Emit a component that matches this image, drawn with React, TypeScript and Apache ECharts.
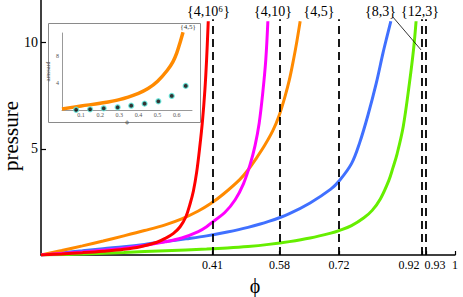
import React, { useEffect, useRef } from "react";
import * as echarts from "echarts";

// ---- data ----
const redPhi = [0, 0.05, 0.1, 0.15, 0.2, 0.24, 0.28, 0.3, 0.32, 0.336, 0.35, 0.36, 0.368, 0.376, 0.383, 0.39, 0.396, 0.4, 0.404];
const redP = [0, 0.05, 0.11, 0.18, 0.27, 0.39, 0.6, 0.78, 1.02, 1.33, 1.8, 2.4, 3.0, 3.9, 5.0, 6.3, 7.8, 9.2, 11];

const magentaPhi = [0, 0.05, 0.1, 0.15, 0.2, 0.25, 0.3, 0.34, 0.38, 0.4, 0.414, 0.444, 0.469, 0.489, 0.505, 0.517, 0.527, 0.536, 0.543, 0.548];
const magentaP = [0, 0.07, 0.14, 0.22, 0.32, 0.45, 0.62, 0.8, 1.1, 1.33, 1.55, 2.0, 2.6, 3.35, 4.25, 5.15, 6.2, 7.7, 9.2, 11];

const orangePhi = [0, 0.05, 0.1, 0.15, 0.2, 0.25, 0.3, 0.34, 0.38, 0.41, 0.44, 0.48, 0.5, 0.52, 0.54, 0.56, 0.575, 0.59, 0.6, 0.61, 0.618, 0.626];
const orangeP = [0, 0.21, 0.43, 0.66, 0.9, 1.15, 1.42, 1.7, 2.07, 2.42, 2.86, 3.55, 4.0, 4.55, 5.15, 5.85, 6.55, 7.5, 8.25, 9.2, 10.05, 11];

const bluePhi = [0, 0.05, 0.1, 0.15, 0.2, 0.25, 0.3, 0.35, 0.4, 0.45, 0.5, 0.55, 0.6, 0.65, 0.7, 0.72, 0.75, 0.77, 0.79, 0.81, 0.826, 0.836, 0.845];
const blueP = [0, 0.1, 0.2, 0.3, 0.39, 0.5, 0.63, 0.76, 0.9, 1.08, 1.3, 1.58, 1.95, 2.45, 3.1, 3.48, 4.3, 5.3, 6.6, 8.1, 9.5, 10.3, 11];

const greenPhi = [0, 0.1, 0.2, 0.3, 0.4, 0.45, 0.5, 0.55, 0.6, 0.65, 0.7, 0.72, 0.75, 0.78, 0.8, 0.82, 0.84, 0.85, 0.86, 0.875, 0.89, 0.9, 0.906];
const greenP = [0, 0.05, 0.12, 0.2, 0.28, 0.33, 0.4, 0.5, 0.63, 0.8, 1.03, 1.15, 1.38, 1.75, 2.1, 2.65, 3.5, 4.1, 4.75, 6.05, 8.1, 9.7, 11];

const limitPhi = [0.414, 0.576, 0.72, 0.92, 0.93];
const xTickValues = [0.414, 0.576, 0.72, 0.92, 0.93, 1];
const yTickValues = [5, 10];

const curveLabels = ["{4,10⁶}", "{4,10}", "{4,5}", "{8,3}", "{12,3}"];

// inset
const insetCurvePhi = [0, 0.1, 0.2, 0.3, 0.4, 0.45, 0.5, 0.55, 0.58, 0.6, 0.62, 0.633];
const insetCurveP = [0.15, 0.6, 1.0, 1.55, 2.5, 3.2, 4.3, 5.9, 7.2, 8.5, 10.3, 11.6];
const insetDotPhi = [0.074, 0.147, 0.218, 0.291, 0.362, 0.432, 0.504, 0.574, 0.647];
const insetDotP = [0.03, 0.1, 0.25, 0.4, 0.65, 0.95, 1.3, 2.1, 3.6];
const insetYTicks = [4, 8];
const insetXTicks = [0.1, 0.2, 0.3, 0.4, 0.5, 0.6];

const pairs = (xs: number[], ys: number[]) => xs.map((x, i) => [x, ys[i]]);

const SERIF = "Liberation Serif";

export default function App() {
  const ref = useRef<HTMLDivElement>(null);
  useEffect(() => {
    if (!ref.current) return;
    const chart = echarts.init(ref.current, null, { renderer: "svg" });
    const curve = (name: string, xs: number[], ys: number[], color: string) => ({
      type: "line",
      name,
      xAxisIndex: 0,
      yAxisIndex: 0,
      data: pairs(xs, ys),
      showSymbol: false,
      smooth: 0.35,
      lineStyle: { color, width: 3 },
      z: 3,
    });
    const labelX = [208.5, 273, 319, 380.5, 420];
    const txt = (text: string, x: number, y: number, size: number, extra: any = {}) => ({
      type: "text",
      x,
      y,
      z: 10,
      ...extra,
      style: {
        text,
        fontFamily: SERIF,
        fontSize: size,
        fill: extra.fill || "#000",
        textAlign: "center",
        textVerticalAlign: "middle",
      },
    });
    const option: any = {
      animation: false,
      backgroundColor: "#fff",
      textStyle: { fontFamily: SERIF },
      grid: [
        { left: 41, right: 8, top: 0, bottom: 42 },
        { left: 62, top: 33, width: 130, height: 77 },
      ],
      xAxis: [
        {
          type: "value",
          gridIndex: 0,
          min: 0,
          max: 1,
          axisLine: { lineStyle: { color: "#000", width: 1.5 } },
          axisTick: { customValues: xTickValues, inside: true, length: 4, lineStyle: { color: "#000", width: 1.2 } },
          axisLabel: {
            customValues: xTickValues,
            margin: 4,
            color: "#000",
            fontFamily: SERIF,
            fontSize: 12,
            formatter: (v: number) => {
              if (v === 1) return "1";
              const s = v.toFixed(2);
              if (Math.abs(v - 0.92) < 1e-6) return "{l|" + s + "}";
              if (Math.abs(v - 0.93) < 1e-6) return "{r|" + s + "}";
              return s;
            },
            rich: {
              l: { padding: [0, 26, 0, 0], fontFamily: SERIF, fontSize: 12, color: "#000" },
              r: { padding: [0, 0, 0, 18], fontFamily: SERIF, fontSize: 12, color: "#000" },
            },
          },
          splitLine: { show: false },
        },
        {
          type: "value",
          gridIndex: 1,
          min: 0,
          max: 0.68,
          axisLine: { lineStyle: { color: "#999", width: 1 } },
          axisTick: { show: false },
          axisLabel: {
            customValues: insetXTicks,
            margin: 2,
            color: "#555",
            fontFamily: SERIF,
            fontSize: 6,
            formatter: (v: number) => v.toFixed(1),
          },
          splitLine: { show: false },
          name: "ϕ",
          nameLocation: "middle",
          nameGap: 6,
          nameTextStyle: { fontFamily: SERIF, fontSize: 7, color: "#444" },
        },
      ],
      yAxis: [
        {
          type: "value",
          gridIndex: 0,
          min: 0,
          max: 12,
          axisLine: { show: true, lineStyle: { color: "#000", width: 1.5 } },
          axisTick: { show: true, customValues: yTickValues, inside: true, length: 5, lineStyle: { color: "#000", width: 1.2 } },
          axisLabel: { customValues: yTickValues, margin: 3, color: "#000", fontFamily: SERIF, fontSize: 14 },
          splitLine: { show: false },
        },
        {
          type: "value",
          gridIndex: 1,
          min: 0,
          max: 11.5,
          axisLine: { show: true, lineStyle: { color: "#999", width: 1 } },
          axisTick: { show: false },
          axisLabel: {
            customValues: insetYTicks,
            margin: 3,
            color: "#555",
            fontFamily: SERIF,
            fontSize: 6,
          },
          splitLine: { show: false },
          name: "pressure",
          nameLocation: "middle",
          nameRotate: -90,
          nameGap: 8,
          nameTextStyle: { fontFamily: SERIF, fontSize: 6, color: "#444" },
        },
      ],
      graphic: [
        {
          type: "rect",
          shape: { x: 48.5, y: 23.5, width: 152, height: 99 },
          style: { fill: "#fff", stroke: "#8a8a8a", lineWidth: 1 },
          z: 0,
          silent: true,
        },
        ...curveLabels.map((t, i) => txt(t, labelX[i], 11, 14)),
        txt("{4,5}", 188, 27, 7, { fill: "#333" }),
        txt("ϕ", 255, 286, 20),
        txt("pressure", 11, 136, 21, { rotation: Math.PI / 2 }),
      ],
      series: [
        {
          type: "line",
          xAxisIndex: 0,
          yAxisIndex: 0,
          data: [],
          markLine: {
            silent: true,
            symbol: ["none", "none"],
            label: { show: false },
            lineStyle: { color: "#000", width: 1.8, type: [8, 5] },
            data: limitPhi.map((x) => [{ coord: [x, 0] }, { coord: [x, 11.1] }]),
          },
          z: 2,
        },
        {
          type: "line",
          xAxisIndex: 0,
          yAxisIndex: 0,
          data: [],
          markLine: {
            silent: true,
            symbol: ["none", "none"],
            label: { show: false },
            lineStyle: { color: "#000", width: 0.8, type: "solid" },
            data: [[{ coord: [0.85, 11.2] }, { coord: [0.918, 9.65] }]],
          },
          z: 2,
        },
        curve("{12,3}", greenPhi, greenP, "#66ee00"),
        curve("{8,3}", bluePhi, blueP, "#4070ff"),
        curve("{4,5}", orangePhi, orangeP, "#ff8a00"),
        curve("{4,10}", magentaPhi, magentaP, "#ff00ff"),
        curve("{4,10⁶}", redPhi, redP, "#ff0000"),
        {
          type: "line",
          xAxisIndex: 1,
          yAxisIndex: 1,
          data: pairs(insetCurvePhi, insetCurveP),
          showSymbol: false,
          smooth: 0.35,
          lineStyle: { color: "#ff8a00", width: 3.5 },
          z: 5,
        },
        {
          type: "scatter",
          xAxisIndex: 1,
          yAxisIndex: 1,
          data: pairs(insetDotPhi, insetDotP),
          symbolSize: 5,
          itemStyle: { color: "#000", borderColor: "#5ee8dc", borderWidth: 1.3 },
          z: 6,
        },
      ],
    };
    chart.setOption(option);
    return () => chart.dispose();
  }, []);
  return <div ref={ref} style={{ position: "fixed", left: 0, top: 0, width: 463, height: 297 }} />;
}
